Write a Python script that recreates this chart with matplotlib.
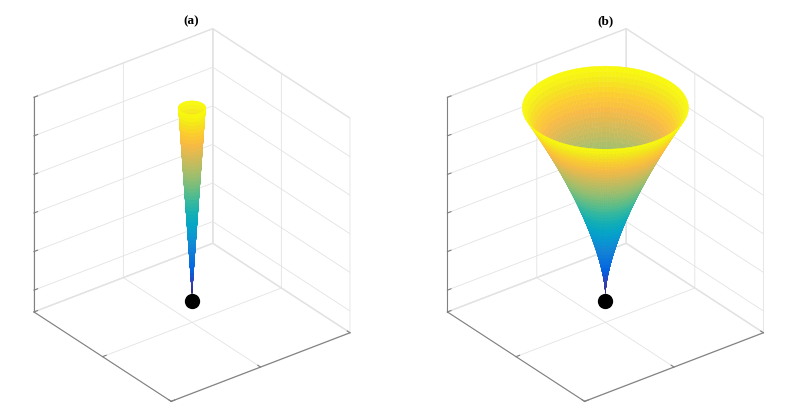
import numpy as np
import matplotlib
matplotlib.use("Agg")
import matplotlib.pyplot as plt
from matplotlib.colors import LinearSegmentedColormap

# --- data -----------------------------------------------------------------
# profile heights (same for both surfaces) and radii of each surface
z_levels = [0.04, 0.06, 0.08, 0.10, 0.12, 0.14, 0.16, 0.18, 0.20, 0.22,
            0.24, 0.26, 0.28, 0.30, 0.32, 0.34, 0.36, 0.38, 0.40, 0.42,
            0.44, 0.46, 0.48, 0.50, 0.52, 0.54, 0.56, 0.58, 0.60, 0.62,
            0.64, 0.66, 0.68, 0.70, 0.72, 0.74, 0.76, 0.78, 0.80, 0.82,
            0.84, 0.86, 0.88, 0.90, 0.92, 0.94, 0.96, 0.98, 1.00]
# (a) narrow straight cone
r_cone = [0.0000, 0.0025, 0.0050, 0.0075, 0.0100, 0.0125, 0.0150, 0.0175,
          0.0200, 0.0225, 0.0250, 0.0275, 0.0300, 0.0325, 0.0350, 0.0375,
          0.0400, 0.0425, 0.0450, 0.0475, 0.0500, 0.0525, 0.0550, 0.0575,
          0.0600, 0.0625, 0.0650, 0.0675, 0.0700, 0.0725, 0.0750, 0.0775,
          0.0800, 0.0825, 0.0850, 0.0875, 0.0900, 0.0925, 0.0950, 0.0975,
          0.1000, 0.1025, 0.1050, 0.1075, 0.1100, 0.1125, 0.1150, 0.1175,
          0.1200]
# (b) flared horn
r_horn = [0.0000, 0.0022, 0.0063, 0.0115, 0.0177, 0.0248, 0.0326, 0.0410,
          0.0501, 0.0598, 0.0701, 0.0809, 0.0921, 0.1039, 0.1161, 0.1287,
          0.1418, 0.1553, 0.1692, 0.1835, 0.1982, 0.2133, 0.2287, 0.2445,
          0.2606, 0.2770, 0.2938, 0.3109, 0.3284, 0.3461, 0.3642, 0.3825,
          0.4012, 0.4201, 0.4394, 0.4589, 0.4787, 0.4988, 0.5191, 0.5398,
          0.5607, 0.5818, 0.6032, 0.6249, 0.6468, 0.6690, 0.6914, 0.7141,
          0.7370]

dot_x, dot_y, dot_z = [0.0], [0.0], [0.0]

x_ticks = [-1, 0, 1]
y_ticks = [-1, 0, 1]
z_ticks = [0.0, 0.2, 0.4, 0.6, 0.8, 1.0]
z_lim = (-0.113, 1.0)

titles = ["(a)", "(b)"]
profiles = [r_cone, r_horn]

# parula-like colormap
parula_pts = [
    (0.2081, 0.1663, 0.5292), (0.1959, 0.2645, 0.7279), (0.0117, 0.3875, 0.8820),
    (0.0498, 0.4586, 0.8641), (0.0793, 0.5200, 0.8312), (0.0343, 0.5966, 0.8199),
    (0.0228, 0.6535, 0.7768), (0.0843, 0.6928, 0.7062), (0.2178, 0.7250, 0.6193),
    (0.3953, 0.7459, 0.5244), (0.5709, 0.7485, 0.4494), (0.7184, 0.7411, 0.3905),
    (0.8507, 0.7299, 0.3360), (0.9739, 0.7314, 0.2666), (0.9880, 0.8066, 0.1794),
    (0.9598, 0.9218, 0.0948), (0.9763, 0.9831, 0.0538)]
parula_pos = [0, 4, 8, 12, 16, 20, 24, 28, 32, 36, 40, 44, 48, 52, 56, 60, 63]
parula = LinearSegmentedColormap.from_list(
    "parula", [(p / 63, c) for p, c in zip(parula_pos, parula_pts)])

GRID = "#e3e3e3"
AXC = "#808080"

fig = plt.figure(figsize=(8, 4.12), dpi=100)

rects = [[-0.0168, -0.035, 0.5, 1.0], [0.5, -0.035, 0.5, 1.0]]
title_xy = [(191.5, 21.5), (605, 21.5)]

theta = np.linspace(0, 2 * np.pi, 121)

for rect, prof, title, (tx, ty) in zip(rects, profiles, titles, title_xy):
    ax = fig.add_axes(rect, projection="3d")
    ax.set_proj_type("ortho")
    ax.view_init(elev=30, azim=-127.5)
    ax.set_box_aspect((1, 1, 1.1), zoom=0.98)

    R, T = np.meshgrid(np.array(prof), theta)
    Z, _ = np.meshgrid(np.array(z_levels), theta)
    X = R * np.cos(T)
    Y = R * np.sin(T)
    surf = ax.plot_surface(X, Y, Z, cmap=parula, vmin=min(z_levels), vmax=max(z_levels),
                           rstride=1, cstride=1, linewidth=0.3, antialiased=True)
    surf.set_edgecolor("face")

    ax.plot(dot_x, dot_y, dot_z, "o", color="black", markersize=10)

    ax.set_xlim(-1, 1)
    ax.set_ylim(-1, 1)
    ax.set_zlim(*z_lim)
    ax.set_xticks(x_ticks)
    ax.set_yticks(y_ticks)
    ax.set_zticks(z_ticks)
    ax.set_xticklabels([])
    ax.set_yticklabels([])
    ax.set_zticklabels([])

    for axis in (ax.xaxis, ax.yaxis, ax.zaxis):
        axis.set_pane_color((1, 1, 1, 1))
        axis.pane.set_edgecolor(GRID)
        axis.line.set_color(AXC)
        axis.line.set_linewidth(0.8)
        axis._axinfo["grid"].update(color=GRID, linewidth=0.6)
        axis._axinfo["tick"].update(inward_factor=0.0, outward_factor=0.25)
    ax.tick_params(axis="both", colors=AXC, width=0.8)
    ax.tick_params(axis="z", colors=AXC, width=0.8)

    fig.text(tx / 800, 1 - ty / 412, title, ha="center", va="center",
             fontfamily="Liberation Serif", fontweight="bold", fontsize=9.5)

fig.savefig("out.png", dpi=100)
